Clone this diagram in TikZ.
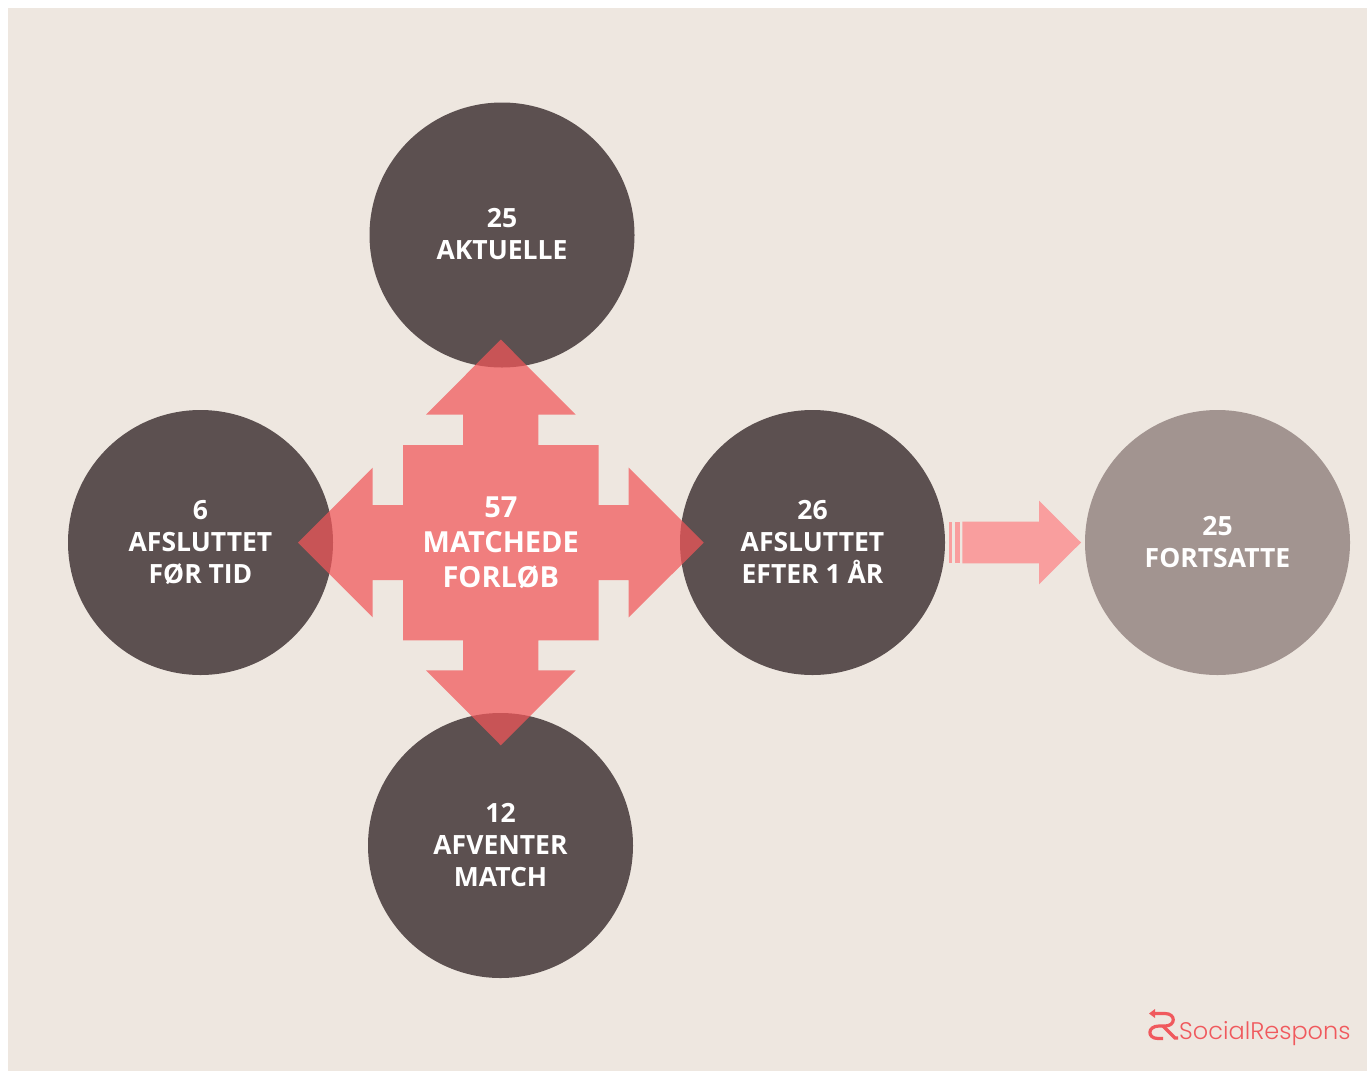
\documentclass[tikz,border=0pt]{standalone}
\usepackage{fontspec}
\setmainfont{Open Sans}
\newfontfamily\logofont[UprightFont=* Light]{Poppins}
\definecolor{bgc}{HTML}{EEE7E0}
\definecolor{darkc}{HTML}{5C5050}
\definecolor{lightc}{HTML}{A29490}
\definecolor{redc}{HTML}{F25659}
\definecolor{pinkc}{HTML}{F99E9E}
\definecolor{logoc}{HTML}{F0595D}
\tikzset{
  dot/.style={circle,draw=none,fill=#1,minimum size=265pt,inner sep=0pt},
  dotlabel/.style={text=white,align=center,inner sep=0pt,font=\fontsize{26.5}{32}\selectfont\bfseries},
  centrelabel/.style={text=white,align=center,font=\fontsize{29}{35}\selectfont\bfseries,inner sep=0pt},
  logoline/.style={draw=logoc,line width=3.2pt}
}
\begin{document}
\begin{tikzpicture}[x=1pt,y=-1pt]
\useasboundingbox (0,0) rectangle (1367,1071);
\fill[white] (0,0) rectangle (1367,1071);
\fill[bgc] (8,8) rectangle (1367,1071);
\node[dot=darkc] (top) at (502,235) {};
\node[dot=darkc] (left) at (200.5,542.5) {};
\node[dot=darkc] (right) at (812.5,542.5) {};
\node[dot=lightc] (far) at (1217.5,542.5) {};
\node[dot=darkc] (bottom) at (500.5,845.5) {};
\node[dotlabel,yshift=1pt] (toptext) at (top.center) {25\\AKTUELLE};
\node[dotlabel] (lefttext) at (left.center) {6\\AFSLUTTET\\FØR TID};
\node[dotlabel,yshift=1pt] (righttext) at (right.center) {26\\AFSLUTTET\\EFTER 1 ÅR};
\node[dotlabel] (fartext) at (far.center) {25\\FORTSATTE};
\node[dotlabel] (bottomtext) at (bottom.center) {12\\AFVENTER\\MATCH};
\fill[redc,fill opacity=.72]
  (500.8,339.5) -- (575.7,414.7) -- (538.3,414.7) -- (538.3,445) -- (598.7,445) -- (598.7,505)
  -- (628.7,505) -- (628.7,467.7) -- (703.7,542.7) -- (628.7,617.3) -- (628.7,580) -- (598.7,580)
  -- (598.7,640.3) -- (538.3,640.3) -- (538.3,670.3) -- (575.7,670.3) -- (500.8,745.3)
  -- (426,670.3) -- (463,670.3) -- (463,640.3) -- (403,640.3) -- (403,580) -- (372.7,580)
  -- (372.7,617.3) -- (298,542.7) -- (372.7,467.7) -- (372.7,505) -- (403,505) -- (403,445)
  -- (463,445) -- (463,414.7) -- (426,414.7) -- cycle;
\node[centrelabel] (centre) at (500.8,542.7) {57\\MATCHEDE\\FORLØB};
\fill[pinkc] (949,521.7) rectangle (952,563.3);
\fill[pinkc] (954.7,521.7) rectangle (960,563.3);
\fill[pinkc] (962.3,521.7) -- (1039,521.7) -- (1039,500.7) -- (1081,542.5) -- (1039,584.3) -- (1039,563.3) -- (962.3,563.3) -- cycle;
% logo
\draw[logoline] (1153,1013.5) -- (1165,1013.5) .. controls (1176,1013.5) and (1176,1026) .. (1165,1026) -- (1159,1026)
  .. controls (1147,1026) and (1147,1038.5) .. (1158,1038.5) -- (1163,1038.5);
\draw[logoline] (1163,1026) -- (1175,1038) -- (1178,1038);
\fill[logoc] (1149,1013.5) -- (1155,1009) -- (1155,1018) -- cycle;
\node[anchor=base west,inner sep=0pt,text=logoc,font=\fontsize{24}{24}\logofont] (logo) at (1179,1039) {SocialRespons};
\end{tikzpicture}
\end{document}
